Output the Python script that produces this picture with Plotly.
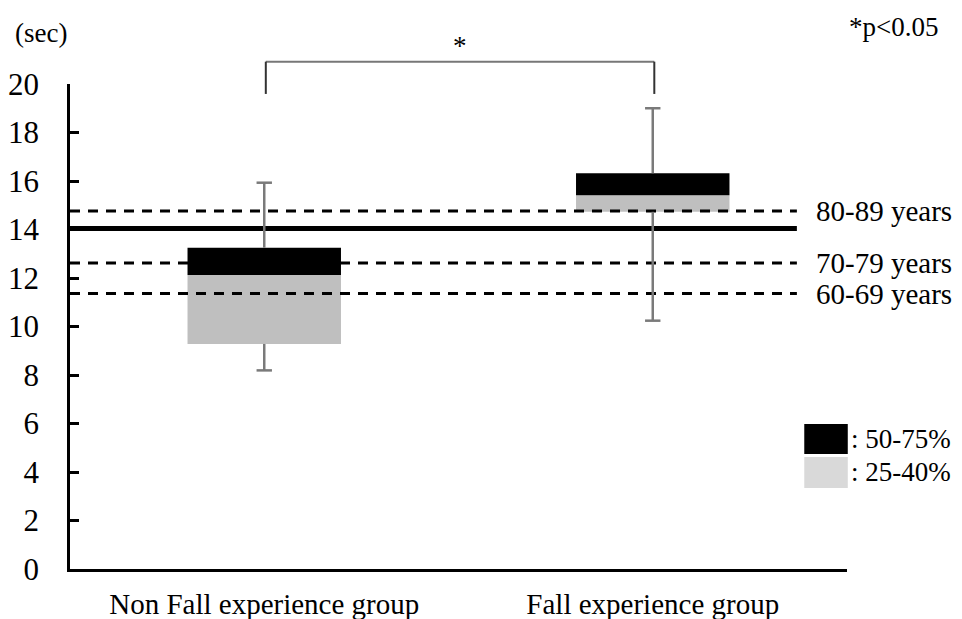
import plotly.graph_objects as go

# ---- data ----
groups = ["Non Fall experience group", "Fall experience group"]
group_pos = [0, 1]
box_low = [9.28, 14.73]      # bottom of 25-40% segment
box_mid = [12.12, 15.41]     # boundary between segments
box_high = [13.25, 16.32]    # top of 50-75% segment
whisk_min = [8.19, 10.24]
whisk_max = [15.93, 19.0]

ref_labels = ["80-89 years", "70-79 years", "60-69 years"]
ref_values = [14.76, 12.62, 11.36]
overall_ref = 14.04

y_ticks = [0, 2, 4, 6, 8, 10, 12, 14, 16, 18, 20]
legend_labels = [": 50-75%", ": 25-40%"]

FONT = "Liberation Serif, Times New Roman, serif"
BLACK = "#000000"
GRAY_BAR = "#bfbfbf"
GRAY_LEG = "#d9d9d9"
WHISK = "#7a7a7a"

fig = go.Figure()

# stacked segments
fig.add_trace(go.Bar(x=group_pos, y=[m - l for l, m in zip(box_low, box_mid)], base=box_low,
                     width=0.395, marker=dict(color=GRAY_BAR, line=dict(width=0)), showlegend=False))
fig.add_trace(go.Bar(x=group_pos, y=[h - m for m, h in zip(box_mid, box_high)], base=box_mid,
                     width=0.395, marker=dict(color=BLACK, line=dict(width=0)), showlegend=False))

# reference lines
x_end = 1.371
for v in ref_values:
    fig.add_trace(go.Scatter(x=[-0.5, x_end], y=[v, v], mode="lines",
                             line=dict(color=BLACK, width=3, dash="10px,8px"), showlegend=False,
                             hoverinfo="skip"))
fig.add_trace(go.Scatter(x=[-0.5, x_end], y=[overall_ref, overall_ref], mode="lines",
                         line=dict(color=BLACK, width=5), showlegend=False, hoverinfo="skip"))

# whiskers
wx, wy = [], []
for p, lo, mn, hi, mx in zip(group_pos, box_low, whisk_min, box_high, whisk_max):
    wx += [p, p, None, p, p, None]
    wy += [hi, mx, None, lo, mn, None]
fig.add_trace(go.Scatter(x=wx, y=wy, mode="lines", line=dict(color=WHISK, width=2.5),
                         showlegend=False, hoverinfo="skip"))
fig.add_trace(go.Scatter(x=group_pos * 2, y=whisk_max + whisk_min, mode="markers",
                         marker=dict(symbol="line-ew-open", size=11, color=WHISK,
                                     line=dict(color=WHISK, width=2.5)),
                         showlegend=False, hoverinfo="skip"))

annotations = []
for lab, v in zip(ref_labels, ref_values):
    annotations.append(dict(x=0.958, xref="paper", y=v, yref="y", text=lab, showarrow=False,
                            xanchor="left", yanchor="middle", font=dict(size=29, color=BLACK, family=FONT)))

annotations.append(dict(x=-0.074, xref="paper", y=1.105, yref="paper", text="(sec)", showarrow=False,
                        xanchor="left", yanchor="middle", font=dict(size=27, color=BLACK, family=FONT)))
annotations.append(dict(x=1.12, xref="paper", y=1.1175, yref="paper", text="*p<0.05", showarrow=False,
                        xanchor="right", yanchor="middle", font=dict(size=27, color=BLACK, family=FONT)))

# significance bracket
xa, xb = [(p + 0.5) / 2 for p in group_pos]
xa += 0.002
xb += 0.002
y_top = 20.92 / 20
y_bot = 19.59 / 20
shapes = [
    dict(type="line", xref="paper", yref="paper", x0=xa, x1=xb, y0=y_top, y1=y_top,
         line=dict(color="#777777", width=2)),
    dict(type="line", xref="paper", yref="paper", x0=xa, x1=xa, y0=y_top, y1=y_bot,
         line=dict(color="#333333", width=2)),
    dict(type="line", xref="paper", yref="paper", x0=xb, x1=xb, y0=y_top, y1=y_bot,
         line=dict(color="#333333", width=2)),
]
annotations.append(dict(x=(xa + xb) / 2, xref="paper", y=1.078, yref="paper", text="*", showarrow=False,
                        xanchor="center", yanchor="middle", font=dict(size=27, color=BLACK, family=FONT)))

# legend boxes
leg_colors = [BLACK, GRAY_LEG]
leg_y = [(0.299, 0.237), (0.231, 0.167)]
for c, (y1, y0), lab in zip(leg_colors, leg_y, legend_labels):
    shapes.append(dict(type="rect", xref="paper", yref="paper", x0=0.945, x1=1.001, y0=y0, y1=y1,
                       fillcolor=c, line=dict(width=0)))
    annotations.append(dict(x=1.003, xref="paper", y=(y0 + y1) / 2, yref="paper", text=lab,
                            showarrow=False, xanchor="left", yanchor="middle",
                            font=dict(size=27, color=BLACK, family=FONT)))

# the page body adds an 8px offset, so the figure is 8px smaller and margins shifted
fig.update_layout(
    width=954, height=611, autosize=False,
    margin=dict(l=62, r=115, t=76, b=50),
    paper_bgcolor="white", plot_bgcolor="white",
    barmode="overlay",
    font=dict(family=FONT, color=BLACK),
    xaxis=dict(range=[-0.5, 1.5], tickvals=group_pos, ticktext=groups, showgrid=False, zeroline=False,
               showline=True, linecolor=BLACK, linewidth=2.5, ticks="", automargin=False,
               tickfont=dict(size=29, family=FONT, color=BLACK), ticklabelstandoff=7, fixedrange=True),
    yaxis=dict(range=[0, 20], tickvals=y_ticks, showgrid=False, zeroline=False, automargin=False,
               showline=True, linecolor=BLACK, linewidth=2.5, ticks="inside", ticklen=9, tickwidth=2.5,
               tickcolor=BLACK, tickfont=dict(size=31, family=FONT, color=BLACK),
               ticklabelstandoff=22, fixedrange=True),
    shapes=shapes, annotations=annotations,
)

fig.write_html("out.html")
